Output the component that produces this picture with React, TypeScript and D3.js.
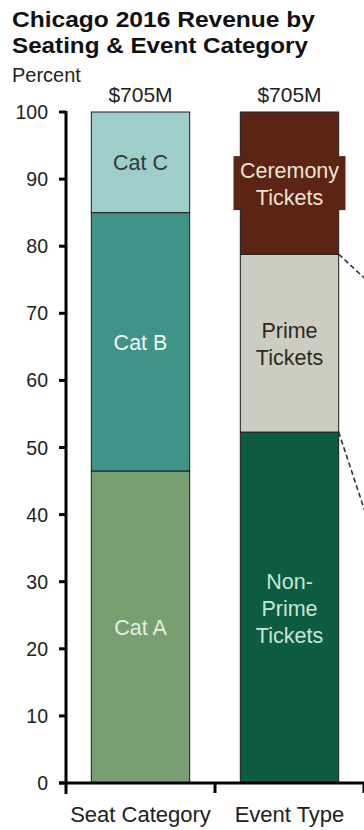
import React from "react";
import * as d3 from "d3";

// Stacked shares (percent of revenue), bottom to top
const columns = ["Seat Category", "Event Type"];
const totals = ["$705M", "$705M"];
const seatSegments = ["Cat A", "Cat B", "Cat C"];
const seatValues = [46.5, 38.5, 15.0];
const eventSegments = ["Non-\nPrime\nTickets", "Prime\nTickets", "Ceremony\nTickets"];
const eventValues = [52.3, 26.5, 21.2];
const yTicks = [0, 10, 20, 30, 40, 50, 60, 70, 80, 90, 100];
// Prime tickets break down further in a column beyond the right edge
const breakdownEdges = [71.8, 29.5];

const seatColors = ["#779f71", "#3f9387", "#9ecdca"];
const seatText = ["#e6efe0", "#eef7f3", "#2e3a38"];
const eventColors = ["#0d5b41", "#cdccc0", "#5b2415"];
const eventText = ["#c6e6d6", "#2a2a26", "#efe2d2"];

const W = 364;
const H = 830;
const FONT = "'Liberation Sans', Arial, Helvetica, sans-serif";

export default function App() {
  const y = d3.scaleLinear().domain([0, 100]).range([783, 112]);
  const x = d3
    .scaleBand<string>()
    .domain([...columns, "_breakdown"])
    .range([66, 513])
    .paddingInner(0.34)
    .paddingOuter(0.17);
  const step = x.step();
  const x0 = 66;

  const stacks = [
    { col: columns[0], names: seatSegments, values: seatValues, fills: seatColors, inks: seatText },
    { col: columns[1], names: eventSegments, values: eventValues, fills: eventColors, inks: eventText },
  ];

  const bars: React.ReactNode[] = [];
  const labels: React.ReactNode[] = [];
  stacks.forEach((s, si) => {
    const bx = x(s.col)!;
    const bw = x.bandwidth();
    const cx = bx + bw / 2;
    let acc = 0;
    s.values.forEach((v, i) => {
      const lo = acc;
      const hi = acc + v;
      acc = hi;
      const top = y(hi);
      const bottom = y(lo);
      bars.push(
        <rect
          key={`b${si}-${i}`}
          x={bx}
          y={top}
          width={bw}
          height={bottom - top}
          fill={s.fills[i]}
          stroke="#1c1c1c"
          strokeWidth={1}
        />
      );
      const lines = s.names[i].split("\n");
      const lh = 27;
      const mid = (top + bottom) / 2 + 1;
      if (si === 1 && i === 2) {
        // label plate spills slightly past the bar edges
        labels.push(
          <rect
            key={`plate${i}`}
            x={cx - 56}
            y={mid - 28}
            width={112}
            height={54}
            fill={s.fills[i]}
          />
        );
      }
      lines.forEach((ln, li) => {
        labels.push(
          <text
            key={`t${si}-${i}-${li}`}
            x={cx}
            y={mid + (li - (lines.length - 1) / 2) * lh}
            textAnchor="middle"
            dominantBaseline="central"
            fontSize={21.5}
            fill={s.inks[i]}
          >
            {ln}
          </text>
        );
      });
    });
  });

  // connectors from the Prime Tickets segment toward the breakdown column
  const bar2Right = x(columns[1])! + x.bandwidth();
  const nextLeft = x("_breakdown")!;
  const primeEdges = [eventValues[0] + eventValues[1], eventValues[0]];

  return (
    <svg width={W} height={H} style={{ position: "absolute", left: 0, top: 0, background: "#fff" }} fontFamily={FONT}>
      <text x={12} y={27} fontSize={21.5} fontWeight="bold" fill="#111" textLength={303} lengthAdjust="spacingAndGlyphs">
        Chicago 2016 Revenue by
      </text>
      <text x={12} y={53} fontSize={21.5} fontWeight="bold" fill="#111" textLength={296} lengthAdjust="spacingAndGlyphs">
        Seating &amp; Event Category
      </text>
      <text x={12} y={82} fontSize={20} fill="#222">
        Percent
      </text>

      {columns.map((c, i) => (
        <text key={c} x={x(c)! + x.bandwidth() / 2} y={101.5} textAnchor="middle" fontSize={21} fill="#222">
          {totals[i]}
        </text>
      ))}

      {bars}
      {labels}

      {primeEdges.map((v, i) => (
        <line
          key={`c${i}`}
          x1={bar2Right}
          y1={y(v)}
          x2={nextLeft}
          y2={y(breakdownEdges[i])}
          stroke="#333"
          strokeWidth={1.6}
          strokeDasharray="5,3"
        />
      ))}

      {/* y axis */}
      <line x1={66} x2={66} y1={y(100) - 1} y2={y(0) + 11} stroke="#000" strokeWidth={3} />
      {yTicks.map((t) => (
        <g key={t}>
          <line x1={59} x2={66} y1={y(t)} y2={y(t)} stroke="#000" strokeWidth={3} />
          <text x={48} y={y(t)} textAnchor="end" dominantBaseline="central" fontSize={19.5} fill="#222">
            {t}
          </text>
        </g>
      ))}

      {/* x axis */}
      <line x1={59} x2={W} y1={y(0)} y2={y(0)} stroke="#000" strokeWidth={3} />
      {columns.map((c, i) => (
        <g key={c}>
          <line x1={x0 + step * (i + 1)} x2={x0 + step * (i + 1)} y1={y(0)} y2={y(0) + 10} stroke="#000" strokeWidth={3} />
          <text x={x(c)! + x.bandwidth() / 2} y={822} textAnchor="middle" fontSize={22} fill="#222">
            {c}
          </text>
        </g>
      ))}
    </svg>
  );
}
